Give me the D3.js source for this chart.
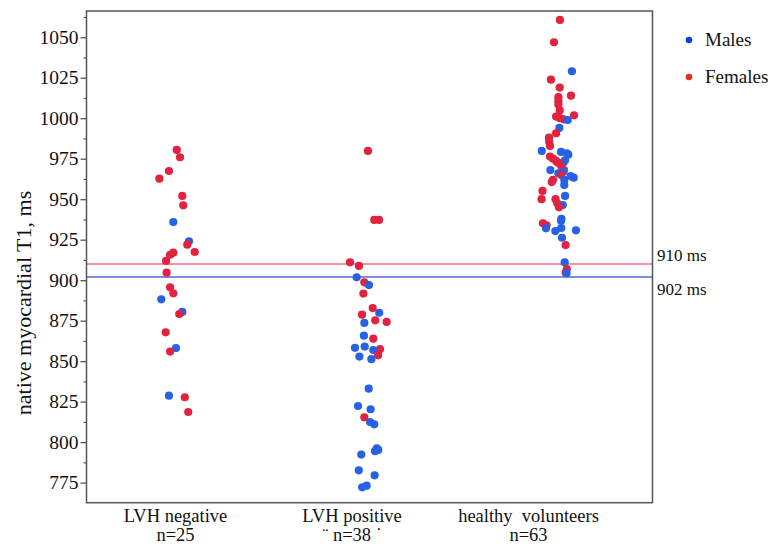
<!DOCTYPE html>
<html>
<head>
<meta charset="utf-8">
<script src="https://cdn.jsdelivr.net/npm/d3@7/dist/d3.min.js"></script>
<style>
  html, body { margin: 0; padding: 0; background: #ffffff; }
  svg { display: block; }
  svg text { font-family: "Liberation Serif", "Times New Roman", serif; }
</style>
</head>
<body>
<svg id="chart" width="772" height="548"></svg>
<script>
// ---------- data ----------
const groups = ["LVH negative", "LVH positive", "healthy  volunteers"];
const groupN = ["n=25", "\u00A8 n=38 \u02D9", "n=63"];

const yTicks = [775, 800, 825, 850, 875, 900, 925, 950, 975, 1000, 1025, 1050];
const yMinorTicks = [787.5, 812.5, 837.5, 862.5, 887.5, 912.5, 937.5, 962.5, 987.5, 1012.5, 1037.5, 1062.5];

const refValues = [910, 902];
const refLabels = ["910 ms", "902 ms"];
const refSex = ["F", "M"];

const legendLabels = ["Males", "Females"];
const legendSex = ["M", "F"];

// LVH negative (n=25)
const lvhNegT1 = [980.4, 975.9, 967.4, 962.7, 952.0, 946.2, 935.9, 924.0, 921.9, 917.4, 917.0, 915.7, 911.9,
  904.6, 895.6, 891.9, 888.2, 880.4, 879.1, 867.8, 858.1, 855.9, 828.7, 827.7, 818.6];
const lvhNegSex = ["F","F","F","F","F","F","M","M","F","F","F","F","F","F","F","F","M","M","F","F","M","F","M","F","F"];
const lvhNegJitter = [0.004, 0.021, -0.037, -0.087, 0.033, 0.038, -0.014, 0.068, 0.059, 0.098, -0.014, -0.031, -0.052,
  -0.049, -0.031, -0.014, -0.077, 0.033, 0.017, -0.054, 0.0, -0.031, -0.037, 0.046, 0.064];

// LVH positive (n=38)
const lvhPosT1 = [979.8, 937.2, 937.2, 911.0, 908.8, 901.8, 898.7, 897.0, 891.7, 882.8, 879.9, 878.7, 875.2, 874.2,
  873.6, 865.7, 863.9, 859.0, 858.2, 857.4, 856.9, 853.6, 852.8, 851.2, 833.0, 822.3, 820.3, 815.3, 812.4, 811.0,
  796.2, 795.2, 794.4, 792.3, 782.6, 779.5, 773.1, 772.1];
const lvhPosSex = ["F","F","F","F","F","M","F","M","F","F","M","F","F","F",
  "M","M","F","M","M","F","M","F","M","M","M","M","M","F","M","M",
  "M","M","M","M","M","M","M","M"];
const lvhPosJitter = [0.005, 0.038, 0.063, -0.089, -0.042, -0.054, -0.014, 0.010, -0.019, 0.030, 0.064, -0.026, 0.043, 0.103,
  -0.014, -0.016, 0.033, -0.012, -0.063, 0.068, 0.033, 0.058, -0.040, 0.023, 0.009, -0.047, 0.019, -0.014, 0.016, 0.038,
  0.051, 0.059, 0.042, -0.030, -0.043, 0.040, -0.002, -0.025];

// healthy volunteers (n=63)
const healthyT1 = [1060.7, 1046.9, 1029.0, 1023.8, 1018.9, 1013.9, 1013.0, 1010.5, 1008.5, 1004.8, 1001.8, 1001.0, 1000.0,
  999.3, 998.9, 994.0, 990.7, 988.0, 985.5, 982.9, 979.8, 979.2, 978.3, 977.5, 976.3, 975.0, 974.0, 973.6, 972.6,
  972.5, 970.5, 968.0, 968.0, 967.0, 966.0, 965.0, 964.3, 963.3, 962.0, 961.9, 960.6, 958.8, 955.1, 952.0, 950.0,
  950.0, 947.5, 946.4, 945.0, 937.8, 936.7, 935.1, 933.9, 932.0, 932.2, 930.3, 930.8, 926.2, 921.7, 911.0, 906.9,
  904.6, 904.3];
const healthySex = ["F","F","M","F","F","F","F","F","F","F","F","F","F",
  "F","M","M","F","F","F","F","M","M","M","M","F","F","M","F","M",
  "F","F","F","M","M","M","F","M","M","F","M","F","M","F","M","F",
  "F","F","M","F","M","M","F","F","M","M","M","M","M","F","M","F",
  "F","M"];
const healthyJitter = [0.010, -0.021, 0.073, -0.037, 0.009, 0.068, 0.002, 0.002, 0.002, 0.009, 0.084, -0.010, 0.010,
  0.030, 0.051, 0.007, -0.010, -0.047, -0.046, -0.042, -0.085, 0.016, 0.046, 0.054, -0.042, -0.026, 0.037, -0.010, 0.028,
  0.0, 0.017, 0.031, -0.040, 0.028, 0.002, 0.016, 0.066, 0.082, -0.026, 0.033, -0.033, 0.033, -0.081, 0.037, -0.086,
  -0.013, -0.004, 0.025, 0.005, 0.018, 0.016, -0.079, -0.060, -0.063, 0.017, -0.014, 0.094, 0.021, 0.040, 0.035, 0.046,
  0.040, 0.045];

const groupValues = [lvhNegT1, lvhPosT1, healthyT1];
const groupSex = [lvhNegSex, lvhPosSex, healthySex];
const groupJitter = [lvhNegJitter, lvhPosJitter, healthyJitter];

// ---------- layout / style ----------
const SERIF = "'Liberation Serif', 'Times New Roman', serif";
const TEXT = "#111";
const frame = { left: 86.5, right: 652.5, top: 11, bottom: 502.7 };
const pointColor = { M: "#2862e4", F: "#e2233f" };
const lineColor = { M: "#4a6cd0", F: "#e8737f" };
const legendColor = { M: "#0b3fe6", F: "#e0302c" };

const svg = d3.select("#chart");

const y = d3.scaleLinear().domain([762.6, 1066.2]).range([frame.bottom, frame.top]);
const x = d3.scalePoint().domain(groups).range([176, 558]);
const xLabel = d3.scalePoint().domain(groups).range([175, 528]);
const jitter = d3.scaleLinear().domain([-0.5, 0.5]).range([-95.5, 95.5]);

// reference lines
refValues.forEach((v, i) => {
  svg.append("line")
    .attr("x1", frame.left).attr("x2", frame.right)
    .attr("y1", y(v)).attr("y2", y(v))
    .attr("stroke", lineColor[refSex[i]])
    .attr("stroke-width", 1.5);
});

// points
const pts = [];
groups.forEach((g, gi) => {
  groupValues[gi].forEach((v, k) => {
    pts.push({ g, v, sex: groupSex[gi][k], j: groupJitter[gi][k] });
  });
});
svg.append("g").selectAll("circle").data(pts).join("circle")
  .attr("cx", d => x(d.g) + jitter(d.j))
  .attr("cy", d => y(d.v))
  .attr("r", 4.1)
  .attr("fill", d => pointColor[d.sex]);

// frame
svg.append("rect")
  .attr("x", frame.left).attr("y", frame.top)
  .attr("width", frame.right - frame.left)
  .attr("height", frame.bottom - frame.top)
  .attr("fill", "none")
  .attr("stroke", "#555")
  .attr("stroke-width", 1.5);

// y axis (major)
const yAxis = svg.append("g")
  .attr("transform", `translate(${frame.left},0)`)
  .call(d3.axisLeft(y).tickValues(yTicks).tickSize(6).tickPadding(2).tickFormat(d3.format("d")))
  .attr("font-family", null).attr("font-size", null);
yAxis.select(".domain").remove();
yAxis.selectAll(".tick line").attr("stroke", "#555").attr("stroke-width", 1.3);
yAxis.selectAll(".tick text")
  .style("font-family", SERIF)
  .style("font-size", "19.5px").attr("fill", TEXT);

// y axis (minor)
const yMinor = svg.append("g")
  .attr("transform", `translate(${frame.left},0)`)
  .call(d3.axisLeft(y).tickValues(yMinorTicks).tickSize(3).tickFormat(""));
yMinor.select(".domain").remove();
yMinor.selectAll(".tick line").attr("stroke", "#555").attr("stroke-width", 1.2);

// y title
svg.append("text")
  .attr("transform", "translate(31,303) rotate(-90)")
  .attr("text-anchor", "middle")
  .style("font-family", SERIF)
  .style("font-size", "22px")
  .attr("fill", TEXT)
  .text("native myocardial T1, ms");

// x labels
const xAxis = svg.append("g")
  .attr("transform", `translate(0,${frame.bottom})`)
  .call(d3.axisBottom(xLabel).tickSize(0).tickFormat(""))
  .attr("font-family", null).attr("font-size", null);
xAxis.select(".domain").remove();
xAxis.selectAll(".tick").each(function(d, i) {
  const tick = d3.select(this);
  tick.append("text")
    .attr("text-anchor", "middle")
    .attr("x", 0).attr("y", 19.5)
    .style("font-family", SERIF)
    .style("font-size", "18.5px")
    .style("white-space", "pre")
    .attr("fill", TEXT)
    .text(groups[i]);
  tick.append("text")
    .attr("text-anchor", "middle")
    .attr("x", 0).attr("y", 38.5)
    .style("font-family", SERIF)
    .style("font-size", "18.5px")
    .style("white-space", "pre")
    .attr("fill", TEXT)
    .text(groupN[i]);
});

// reference labels
refLabels.forEach((lab, i) => {
  svg.append("text")
    .attr("x", 657)
    .attr("y", y(refValues[i]) + (i === 0 ? -3 : 18))
    .style("font-family", SERIF)
    .style("font-size", "17px")
    .attr("fill", TEXT)
    .text(lab);
});

// legend
legendLabels.forEach((lab, i) => {
  const ly = 40 + i * 37;
  svg.append("circle").attr("cx", 689).attr("cy", ly).attr("r", 3.3)
    .attr("fill", legendColor[legendSex[i]]);
  svg.append("text").attr("x", 705).attr("y", ly + 6)
    .style("font-family", SERIF)
    .style("font-size", "19px").attr("fill", TEXT).text(lab);
});
</script>
</body>
</html>
